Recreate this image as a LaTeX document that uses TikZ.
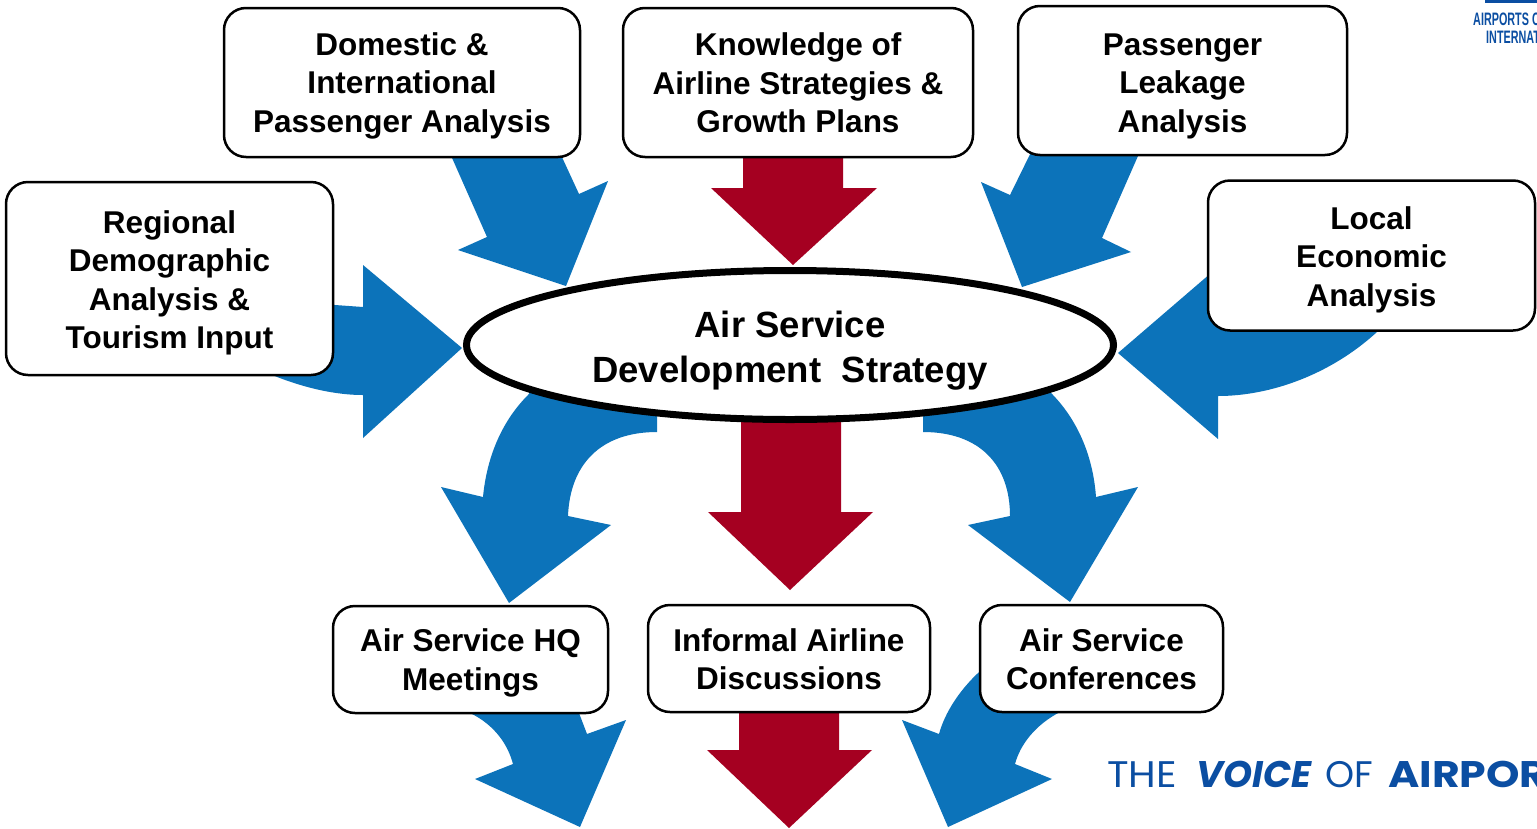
\documentclass[tikz,border=0pt]{standalone}
\usepackage{fontspec}
\setmainfont{Liberation Sans}
\newfontfamily\popfont{Poppins}
\usetikzlibrary{shapes.geometric}
\definecolor{asblue}{HTML}{0C73BA}
\definecolor{asred}{HTML}{A50021}
\definecolor{logoblue}{HTML}{0B4EA2}
\newcommand\myboxfont{\fontsize{31.5}{38.5}\selectfont\bfseries}
\newcommand\myellfont{\fontsize{36.5}{45}\selectfont\bfseries}
\tikzset{
  box/.style={draw=black, line width=2.5pt, rounded corners=22pt, fill=white,
              align=center, inner sep=0pt, font=\myboxfont, text depth=0pt},
  bluearrow/.style={fill=asblue, draw=none},
  redarrow/.style={fill=asred, draw=none},
  logotext/.style={text=logoblue, inner sep=0pt, anchor=base west}
}
\begin{document}
\begin{tikzpicture}[x=1pt,y=-1pt]
\useasboundingbox (0,0) rectangle (1537,828);
\clip (0,0) rectangle (1537,828);
\fill[white] (0,0) rectangle (1537,828);

% ---- block arrows (behind the nodes) ----
% top left straight
\path[bluearrow] (445,142) -- (487,237) -- (458,250) -- (566,286) -- (608,181) -- (579,194) -- (555,142) -- cycle;
% top right straight
\path[bluearrow] (1037,140) -- (1010,195) -- (981,182) -- (1022,287) -- (1131,252) -- (1102,238) -- (1145,140) -- cycle;
% left curved
\path[bluearrow] (300,300) -- (335,305) -- (363,307) -- (363,265) -- (462,348) -- (363,438) -- (363,395)
   .. controls (330,395) and (295,385) .. (265,372) -- (240,355) -- cycle;
% right curved
\path[bluearrow] (1300,300) -- (1218,310) -- (1218,267) -- (1118,353) -- (1218,439) -- (1218,396)
   .. controls (1270,396) and (1330,375) .. (1377,332) -- (1395,312) -- cycle;
% lower left curved
\path[bluearrow] (657,405) -- (657,432) .. controls (600,432) and (570,465) .. (568,516) -- (611,525) -- (509,603)
   -- (441,487) -- (483,497) .. controls (487,455) and (503,420) .. (528,395) -- (540,380) -- cycle;
% lower right curved
\path[bluearrow] (923,405) -- (923,432) .. controls (980,432) and (1010,465) .. (1010,516) -- (968,525) -- (1070,602)
   -- (1138,487) -- (1096,497) .. controls (1093,455) and (1077,420) .. (1053,395) -- (1040,380) -- cycle;
% bottom left
\path[bluearrow] (460,698) -- (470,713) .. controls (495,725) and (508,745) .. (513,764) -- (475,779) -- (580,827)
   -- (626,720) -- (587,734) -- (579,713) -- (579,698) -- cycle;
% bottom right
\path[bluearrow] (995,660) -- (978,673) .. controls (960,690) and (945,712) .. (939,734) -- (902,720) -- (948,827)
   -- (1052,779) -- (1015,764) .. controls (1020,745) and (1035,725) .. (1060,712) -- (1060,700) -- cycle;
% red arrows
\path[redarrow] (743,150) -- (743,188) -- (711,188) -- (793,265) -- (877,188) -- (843,188) -- (843,150) -- cycle;
\path[redarrow] (741,410) -- (741,512) -- (708,512) -- (790,590) -- (873,512) -- (841,512) -- (841,410) -- cycle;
\path[redarrow] (739,705) -- (739,750) -- (707,750) -- (789,828) -- (872,750) -- (839,750) -- (839,705) -- cycle;

% ---- nodes ----
\node[box, minimum width=356pt, minimum height=149pt, text height=99.4pt] (dom) at (402,82.5)
  {Domestic \&\\International\\Passenger Analysis};
\node[box, minimum width=350pt, minimum height=149pt, text height=100pt] (know) at (798,82.5)
  {Knowledge of\\Airline Strategies \&\\Growth Plans};
\node[box, minimum width=329pt, minimum height=149pt, text height=103pt] (leak) at (1182.5,80.5)
  {Passenger\\Leakage\\Analysis};
\node[box, minimum width=327pt, minimum height=193pt, text height=140pt] (reg) at (169.5,278.5)
  {Regional\\Demographic\\Analysis \&\\Tourism Input};
\node[box, minimum width=327pt, minimum height=150pt, text height=101.4pt] (loc) at (1371.5,255.5)
  {Local\\Economic\\Analysis};
\node[ellipse, draw=black, line width=7pt, fill=white, minimum width=647pt, minimum height=149pt,
      inner sep=0pt, align=center, font=\myellfont, text height=74.8pt, text depth=0pt] (asds) at (790,345)
  {Air Service\\Development\ \ Strategy};
\node[box, minimum width=275pt, minimum height=107pt, text height=61.8pt] (hq) at (470.5,659.5)
  {Air Service HQ\\Meetings};
\node[box, minimum width=282pt, minimum height=107pt, text height=62.5pt] (inf) at (789,658.5)
  {Informal Airline\\Discussions};
\node[box, minimum width=243pt, minimum height=107pt, text height=62.5pt] (conf) at (1101.5,658.5)
  {Air Service\\Conferences};

% ---- logo ----
\fill[logoblue] (1485,0) rectangle (1537,3);
\node[logotext] (logoa) at (1473,25.5) {\scalebox{0.6}[1]{\fontsize{18}{18}\selectfont\bfseries AIRPORTS COUNCIL}};
\node[logotext] (logob) at (1486,43.5) {\scalebox{0.6}[1]{\fontsize{18}{18}\selectfont\bfseries INTERNATIONAL}};
% ---- tagline ----
\node[logotext, font=\popfont\fontsize{37}{37}\selectfont] (the) at (1107,787.5) {\scalebox{1.08}[1]{THE}};
\node[logotext, font=\popfont\fontsize{37}{37}\selectfont\bfseries\itshape] (voice) at (1196,787.5) {VOICE};
\node[logotext, font=\popfont\fontsize{37}{37}\selectfont] (of) at (1325,787.5) {OF};
\node[logotext, font=\popfont\fontsize{37}{37}\selectfont\bfseries] (airp) at (1388,787.5) {\scalebox{1.15}[1]{AIRPORTS}};
\end{tikzpicture}
\end{document}
